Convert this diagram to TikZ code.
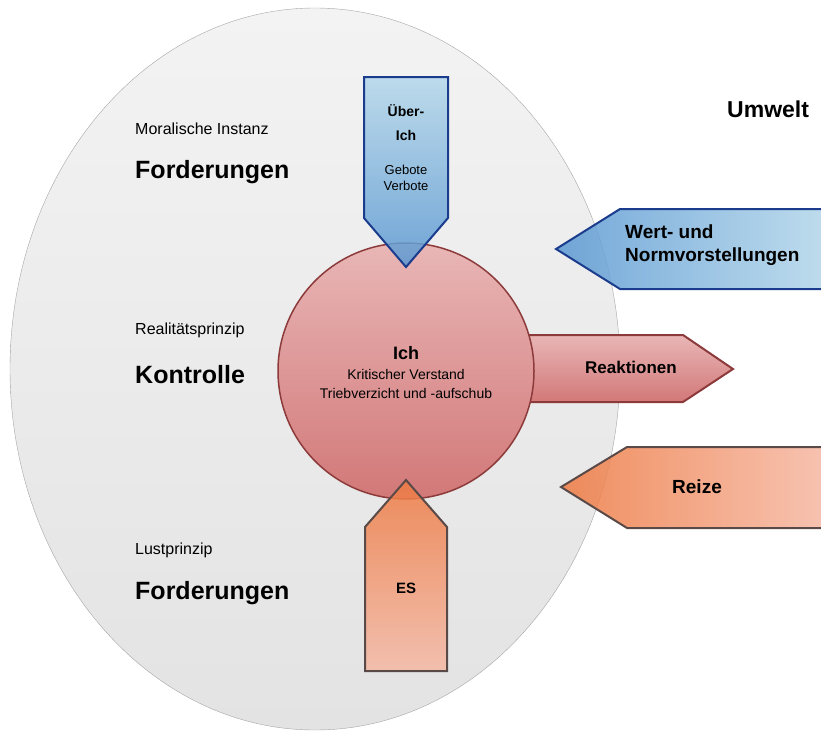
\documentclass[tikz,border=0pt]{standalone}
\usepackage{fontspec}
\setmainfont{Liberation Sans}
\definecolor{ellOben}{HTML}{F3F3F3}
\definecolor{ellUnten}{HTML}{E3E3E3}
\definecolor{ichOben}{HTML}{E9B6B6}
\definecolor{ichUnten}{HTML}{D27878}
\definecolor{ichRand}{HTML}{8C3A3A}
\definecolor{blauHell}{HTML}{B4D7EA}
\definecolor{blauDunkel}{HTML}{5A98D2}
\definecolor{blauRand}{HTML}{1B3C8C}
\definecolor{orangeDunkel}{HTML}{EE7A42}
\definecolor{orangeHell}{HTML}{F5B9A5}
\definecolor{orangeRand}{HTML}{5A4A47}
\begin{document}
\begin{tikzpicture}[x=1pt,y=-1pt,
  hinweis/.style={anchor=west,inner sep=0pt,font=\fontsize{16}{18}\selectfont},
  titel/.style={anchor=west,inner sep=0pt,font=\fontsize{25}{28}\selectfont\bfseries},
  pfeiltext/.style={inner sep=0pt,align=center,font=\fontsize{#1}{#1}\selectfont\bfseries},
  blaupfeil/.style={draw=blauRand,line width=2pt,line join=miter,fill opacity=0.85},
  orangepfeil/.style={draw=orangeRand,line width=2pt,line join=miter,fill opacity=0.85}]
\useasboundingbox (0,0) rectangle (821,731);
% Umwelt-Ellipse
\draw[draw=gray!70,top color=ellOben,bottom color=ellUnten](315,369)ellipse(305 and 361);
% Reaktionen (liegt unter dem Ich)
\draw[draw=ichRand,line width=2pt,top color=ichOben,bottom color=ichUnten]
(500,335)--(683,335)--(733,369)--(683,402)--(500,402)--cycle;
% Ich
\draw[draw=ichRand,line width=1.5pt,top color=ichOben,bottom color=ichUnten](406,371)circle(128);
% Ueber-Ich
\draw[blaupfeil,top color=blauHell,bottom color=blauDunkel]
(364,77)--(448,77)--(448,218)--(406,267)--(364,218)--cycle;
% ES
\draw[orangepfeil,top color=orangeDunkel,bottom color=orangeHell]
(406,480)--(447,527)--(447,671)--(365,671)--(365,527)--cycle;
% Wert- und Normvorstellungen
\draw[blaupfeil,left color=blauDunkel,right color=blauHell]
(556,249)--(620,209)--(830,209)--(830,289)--(620,289)--cycle;
% Reize
\draw[orangepfeil,left color=orangeDunkel,right color=orangeHell]
(561,487)--(627,447)--(830,447)--(830,528)--(627,528)--cycle;

\node[hinweis](moral)at(135,129){Moralische Instanz};
\node[titel](forderOben)at(135,172){Forderungen};
\node[hinweis](realitaet)at(135,330){Realitätsprinzip};
\node[titel](kontrolle)at(135,375){Kontrolle};
\node[hinweis](lust)at(135,550){Lustprinzip};
\node[titel](forderUnten)at(135,593){Forderungen};
\node[titel,font=\fontsize{23}{26}\selectfont\bfseries](umwelt)at(727,109){Umwelt};

\node[pfeiltext=14,font=\fontsize{14}{24}\selectfont\bfseries](ueberich)at(406,123){Über-\\Ich};
\node[inner sep=0pt,align=center,font=\fontsize{13}{16}\selectfont](gebote)at(406,178){Gebote\\Verbote};
\node[pfeiltext=18](ich)at(406,353){Ich};
\node[inner sep=0pt,align=center,font=\fontsize{14}{19}\selectfont](ichtext)at(406,384){Kritischer Verstand\\Triebverzicht und -aufschub};
\node[pfeiltext=17](reaktionen)at(631,367){Reaktionen};
\node[pfeiltext=15](es)at(406,588){ES};
\node[pfeiltext=19,align=left,anchor=west,font=\fontsize{19}{23}\selectfont\bfseries](wert)at(625,245){Wert- und\\Normvorstellungen};
\node[pfeiltext=19](reize)at(697,487){Reize};
\end{tikzpicture}
\end{document}
